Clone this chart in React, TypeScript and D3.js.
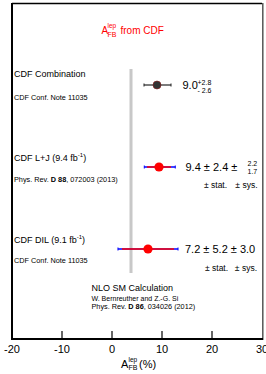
import React from "react";
import * as d3 from "d3";

const names = ["CDF Combination", "CDF L+J", "CDF DIL"];
const refs = ["CDF Conf. Note 11035", "Phys. Rev. D 88, 072003 (2013)", "CDF Conf. Note 11035"];
const centralValues = [9.0, 9.4, 7.2];
const statErr = [0, 2.4, 5.2];
const sysUp = [0, 2.2, 3.0];
const sysDown = [0, 1.7, 3.0];
const comboUp = 2.8;
const comboDown = 2.6;
const smPrediction = 3.8;
const xTicks = [-20, -10, 0, 10, 20, 30];

const W = 266;
const H = 374;
const font = "Liberation Sans, Arial, Helvetica, sans-serif";

export default function App() {
  const x = d3.scaleLinear().domain([-20, 30]).range([12, 262]);
  const y = d3.scaleLinear().domain([0, 2]).range([85, 249]);
  const axisY = 339;

  const totUp = centralValues.map((_, i) => (i === 0 ? comboUp : Math.hypot(statErr[i], sysUp[i])));
  const totDown = centralValues.map((_, i) => (i === 0 ? comboDown : Math.hypot(statErr[i], sysDown[i])));

  return (
    <svg width={W} height={H} style={{ position: "absolute", left: 0, top: 0, fontFamily: font }}>
      <rect x={0} y={0} width={W} height={H} fill="#fff" />
      {/* frame */}
      <line x1={12} x2={262} y1={3.5} y2={3.5} stroke="#000" strokeWidth={1.5} />
      <line x1={12} x2={12} y1={3} y2={axisY + 1} stroke="#000" strokeWidth={2} />
      <line x1={262.8} x2={262.8} y1={3} y2={axisY + 1} stroke="#555" strokeWidth={1.5} />
      <line x1={11} x2={263} y1={axisY} y2={axisY} stroke="#000" strokeWidth={2} />
      {xTicks.slice(1, -1).map((t) => (
        <line key={t} x1={x(t)} x2={x(t)} y1={axisY - 8} y2={axisY} stroke="#000" strokeWidth={1.2} />
      ))}
      {xTicks.map((t) => (
        <text key={t} x={x(t)} y={353} textAnchor="middle" fontSize={11} fill="#000">
          {t}
        </text>
      ))}
      {/* axis title */}
      <text x={121} y={368} fontSize={11} fill="#000">A</text>
      <text x={128.5} y={362} fontSize={6.5} fill="#000">lep</text>
      <text x={128.5} y={370} fontSize={7} fill="#000">FB</text>
      <text x={139} y={368} fontSize={11} fill="#000">(%)</text>

      {/* title */}
      <text x={101.5} y={34.3} fontSize={10} fill="#ff0000">A</text>
      <text x={107.5} y={27.7} fontSize={6.5} fill="#ff0000">lep</text>
      <text x={107.5} y={36.7} fontSize={7} fill="#ff0000">FB</text>
      <text x={120.5} y={34.3} fontSize={10} fill="#ff0000">from CDF</text>

      {/* SM band */}
      <rect x={x(smPrediction) - 1.5} y={69} width={3} height={204} fill="#c8c8c8" />

      {/* left labels */}
      <text x={14} y={77} fontSize={9} fill="#000">{names[0]}</text>
      <text x={14} y={100} fontSize={7.3} fill="#000">{refs[0]}</text>

      <text x={14} y={161} fontSize={9} fill="#000">
        {names[1]} (9.4 fb
        <tspan dy={-4} fontSize={6}>-1</tspan>
        <tspan dy={4}>)</tspan>
      </text>
      <text x={14} y={182} fontSize={7.3} fill="#000">
        Phys. Rev. <tspan fontWeight="bold">D 88</tspan>, 072003 (2013)
      </text>

      <text x={14} y={243} fontSize={9} fill="#000">
        {names[2]} (9.1 fb
        <tspan dy={-4} fontSize={6}>-1</tspan>
        <tspan dy={4}>)</tspan>
      </text>
      <text x={14} y={263} fontSize={7.3} fill="#000">{refs[2]}</text>

      {/* NLO SM text */}
      <text x={91.5} y={291} fontSize={9} fill="#000">NLO SM Calculation</text>
      <text x={91.5} y={301} fontSize={7} fill="#000">W. Bernreuther and Z.-G. Si</text>
      <text x={91.5} y={309} fontSize={7.3} fill="#000">
        Phys. Rev. <tspan fontWeight="bold">D 86</tspan>, 034026 (2012)
      </text>

      {/* combination point */}
      <g>
        <line x1={x(centralValues[0] - totDown[0])} x2={x(centralValues[0] + totUp[0])} y1={y(0)} y2={y(0)} stroke="#222" strokeWidth={1.2} />
        <line x1={x(centralValues[0] - totDown[0])} x2={x(centralValues[0] - totDown[0])} y1={y(0) - 1.5} y2={y(0) + 1.5} stroke="#222" />
        <line x1={x(centralValues[0] + totUp[0])} x2={x(centralValues[0] + totUp[0])} y1={y(0) - 1.5} y2={y(0) + 1.5} stroke="#222" />
        <circle cx={x(centralValues[0])} cy={y(0)} r={4} fill="#333" stroke="#8b1a1a" strokeWidth={0.6} />
      </g>

      {[1, 2].map((i) => {
        const cy = y(i);
        const lo = x(centralValues[i] - totDown[i]);
        const hi = x(centralValues[i] + totUp[i]);
        return (
          <g key={i}>
            <line x1={lo} x2={hi} y1={cy} y2={cy} stroke="#0000ff" strokeWidth={1.5} />
            <line x1={lo} x2={lo} y1={cy - 1.5} y2={cy + 1.5} stroke="#0000ff" />
            <line x1={hi} x2={hi} y1={cy - 1.5} y2={cy + 1.5} stroke="#0000ff" />
            <line x1={x(centralValues[i] - statErr[i])} x2={x(centralValues[i] + statErr[i])} y1={cy} y2={cy} stroke="#ff0000" strokeWidth={1.5} />
            <circle cx={x(centralValues[i])} cy={cy} r={4.6} fill="#ff0000" />
          </g>
        );
      })}

      {/* value texts */}
      <text x={182.5} y={89} fontSize={11} fill="#000">{centralValues[0].toFixed(1)}</text>
      <text x={197.5} y={84.5} fontSize={7} fill="#000">+{comboUp.toFixed(1)}</text>
      <text x={197.5} y={92.5} fontSize={7} fill="#000">- {comboDown.toFixed(1)}</text>

      <text x={185.5} y={171} fontSize={11} fill="#000">
        {centralValues[1].toFixed(1)} ± {statErr[1].toFixed(1)} ±
      </text>
      <text x={247.5} y={165.5} fontSize={7} fill="#000">{sysUp[1].toFixed(1)}</text>
      <text x={247.5} y={173.5} fontSize={7} fill="#000">{sysDown[1].toFixed(1)}</text>
      <text x={204} y={188.3} fontSize={8.5} fill="#000">± stat.</text>
      <text x={257.5} y={188.3} fontSize={8.5} fill="#000" textAnchor="end">± sys.</text>

      <text x={185} y={253.3} fontSize={11} fill="#000">
        {centralValues[2].toFixed(1)} ± {statErr[2].toFixed(1)} ± {sysUp[2].toFixed(1)}
      </text>
      <text x={205} y={271} fontSize={8.5} fill="#000">± stat.</text>
      <text x={257} y={271} fontSize={8.5} fill="#000" textAnchor="end">± sys.</text>
    </svg>
  );
}
